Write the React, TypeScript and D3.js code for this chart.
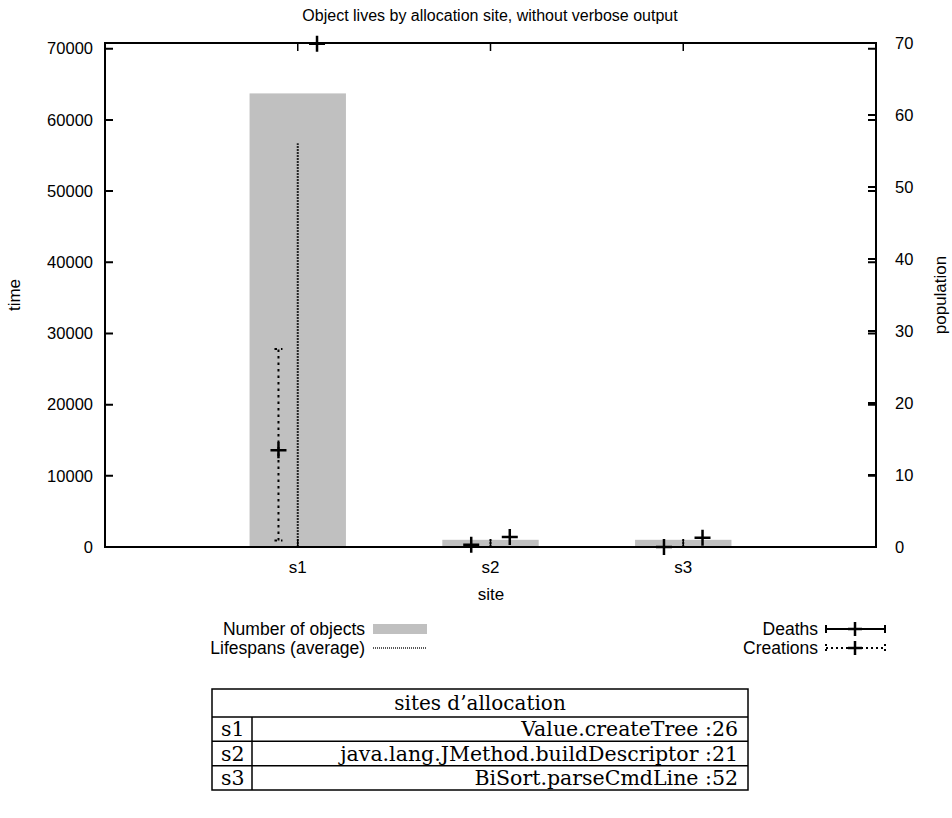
import React, { useEffect, useRef } from "react";
import * as d3 from "d3";

const sites = ["s1", "s2", "s3"];
const objectCounts = [63, 1, 1];
const lifespans = [56700, 1100, 1100];
const creations = [13600, 300, 0];
const creationsLow = [900, 250, 0];
const creationsHigh = [27800, 350, 50];
const deaths = [70700, 1400, 1300];
const deathsLow = [70700, 1350, 1250];
const deathsHigh = [70700, 1450, 1350];
const siteNames = [
  "Value.createTree :26",
  "java.lang.JMethod.buildDescriptor :21",
  "BiSort.parseCmdLine :52",
];
const timeTicks = [0, 10000, 20000, 30000, 40000, 50000, 60000, 70000];
const popTicks = [0, 10, 20, 30, 40, 50, 60, 70];

const W = 952;
const H = 818;
const SANS = "'Liberation Sans', Arial, sans-serif";
const SERIF = "'DejaVu Serif', 'Liberation Serif', serif";

const App = () => {
  const svgRef = useRef<SVGSVGElement>(null);

  useEffect(() => {
    const svg = d3.select(svgRef.current);
    svg.selectAll("*").remove();

    const left = 105, right = 876, top = 43, bottom = 547;
    const x = d3.scaleLinear().domain([0, 4]).range([left, right]);
    const yTime = d3.scaleLinear().domain([0, 70800]).range([bottom, top]);
    const yPop = d3.scaleLinear().domain([0, 70]).range([bottom, top]);
    const fsTick = 16.5;
    const fsLab = 17;
    const fsLeg = 17.5;

    const g = svg.append("g");

    // bars: number of objects
    g.selectAll(".bar")
      .data(objectCounts)
      .enter()
      .append("rect")
      .attr("x", (d, i) => x(i + 1 - 0.25))
      .attr("width", x(0.5) - x(0))
      .attr("y", (d) => yPop(d))
      .attr("height", (d) => bottom - yPop(d))
      .attr("fill", "#c0c0c0");

    // lifespans (impulses)
    g.selectAll(".life")
      .data(lifespans)
      .enter()
      .append("line")
      .attr("x1", (d, i) => x(i + 1))
      .attr("x2", (d, i) => x(i + 1))
      .attr("y1", bottom)
      .attr("y2", (d) => yTime(d))
      .attr("stroke", "#222")
      .attr("stroke-width", 2)
      .attr("stroke-dasharray", "2,1");

    const plus = (sel, cx, cy, s = 8) => {
      sel.append("path")
        .attr("d", `M${cx - s},${cy}H${cx + s}M${cx},${cy - s}V${cy + s}`)
        .attr("stroke", "#000")
        .attr("stroke-width", 2.5)
        .attr("fill", "none");
    };

    const errorBar = (sel, cx, lo, hi, dash) => {
      const capW = 4;
      sel.append("path")
        .attr("d", `M${cx},${lo}V${hi}M${cx - capW},${lo}H${cx + capW}M${cx - capW},${hi}H${cx + capW}`)
        .attr("stroke", "#000")
        .attr("stroke-width", 2)
        .attr("fill", "none")
        .attr("stroke-dasharray", dash);
    };

    const plotClip = svg.append("clipPath").attr("id", "plotclip");
    plotClip.append("rect").attr("x", left).attr("y", top - 1).attr("width", right - left).attr("height", bottom - top + 10);
    const marks = g.append("g").attr("clip-path", "url(#plotclip)");

    creations.forEach((v, i) => {
      const cx = x(i + 1 - 0.1);
      if (creationsHigh[i] - creationsLow[i] > 1000)
        errorBar(marks, cx, yTime(creationsLow[i]), yTime(creationsHigh[i]), "2.5,4");
      plus(marks, cx, yTime(v));
    });
    deaths.forEach((v, i) => {
      const cx = x(i + 1 + 0.1);
      if (deathsHigh[i] - deathsLow[i] > 1000)
        errorBar(marks, cx, yTime(deathsLow[i]), yTime(deathsHigh[i]), null);
      plus(g, cx, yTime(v));
    });

    // border
    g.append("rect")
      .attr("x", left).attr("y", top)
      .attr("width", right - left).attr("height", bottom - top)
      .attr("fill", "none").attr("stroke", "#000").attr("stroke-width", 2);

    const tl = 8;
    // left ticks + right mirror
    timeTicks.forEach((t) => {
      const yy = yTime(t);
      g.append("path").attr("d", `M${left},${yy}h${tl}M${right},${yy}h${-tl}`)
        .attr("stroke", "#000").attr("stroke-width", 2);
      g.append("text").attr("x", left - 12).attr("y", yy).attr("dy", "0.35em")
        .attr("text-anchor", "end").style("font", `${fsTick}px ${SANS}`).text(String(t));
    });
    popTicks.forEach((t) => {
      const yy = yPop(t);
      g.append("path").attr("d", `M${right},${yy}h${-tl}`)
        .attr("stroke", "#000").attr("stroke-width", 2);
      g.append("text").attr("x", right + 19).attr("y", yy).attr("dy", "0.35em")
        .attr("text-anchor", "start").style("font", `${fsTick}px ${SANS}`).text(String(t));
    });
    // x ticks
    sites.forEach((s, i) => {
      const xx = x(i + 1);
      g.append("path").attr("d", `M${xx},${bottom}v${-tl}M${xx},${top}v${tl}`)
        .attr("stroke", "#000").attr("stroke-width", 1.5);
      g.append("text").attr("x", xx).attr("y", 567).attr("dy", "0.35em")
        .attr("text-anchor", "middle").style("font", `${fsLab}px ${SANS}`).text(s);
    });

    // titles
    svg.append("text").attr("x", 490).attr("y", 15).attr("dy", "0.35em")
      .attr("text-anchor", "middle").style("font", `16px ${SANS}`)
      .text("Object lives by allocation site, without verbose output");
    svg.append("text").attr("x", 491).attr("y", 594).attr("dy", "0.35em")
      .attr("text-anchor", "middle").style("font", `${fsLab}px ${SANS}`).text("site");
    svg.append("text").attr("transform", "translate(14,295) rotate(-90)").attr("dy", "0.35em")
      .attr("text-anchor", "middle").style("font", `${fsLab}px ${SANS}`).text("time");
    svg.append("text").attr("transform", "translate(940,295) rotate(-90)").attr("dy", "0.35em")
      .attr("text-anchor", "middle").style("font", `${fsLab}px ${SANS}`).text("population");

    // legend
    const leg = svg.append("g");
    const ly1 = 629, ly2 = 648;
    leg.append("text").attr("x", 365).attr("y", ly1).attr("dy", "0.35em").attr("text-anchor", "end")
      .style("font", `${fsLeg}px ${SANS}`).text("Number of objects");
    leg.append("rect").attr("x", 373).attr("y", ly1 - 5).attr("width", 54).attr("height", 10).attr("fill", "#c0c0c0");
    leg.append("text").attr("x", 365).attr("y", ly2).attr("dy", "0.35em").attr("text-anchor", "end")
      .style("font", `${fsLeg}px ${SANS}`).text("Lifespans (average)");
    leg.append("line").attr("x1", 373).attr("x2", 427).attr("y1", ly2).attr("y2", ly2)
      .attr("stroke", "#222").attr("stroke-width", 1.5).attr("stroke-dasharray", "1,1");

    leg.append("text").attr("x", 818).attr("y", ly1).attr("dy", "0.35em").attr("text-anchor", "end")
      .style("font", `${fsLeg}px ${SANS}`).text("Deaths");
    leg.append("path").attr("d", `M826,${ly1}H885M826,${ly1 - 4}V${ly1 + 4}M885,${ly1 - 4}V${ly1 + 4}`)
      .attr("stroke", "#000").attr("stroke-width", 2).attr("fill", "none");
    plus(leg, 855, ly1, 7);
    leg.append("text").attr("x", 818).attr("y", ly2).attr("dy", "0.35em").attr("text-anchor", "end")
      .style("font", `${fsLeg}px ${SANS}`).text("Creations");
    leg.append("path").attr("d", `M826,${ly2}H885M826,${ly2 - 4}V${ly2 + 4}M885,${ly2 - 4}V${ly2 + 4}`)
      .attr("stroke", "#000").attr("stroke-width", 2).attr("fill", "none").attr("stroke-dasharray", "2,3");
    plus(leg, 855, ly2, 7);

    // table
    const tb = svg.append("g");
    const tx0 = 212, tx1 = 748, tdiv = 252;
    const rowY = d3.scaleLinear().domain([0, 3]).range([717, 790]);
    const headTop = 689;
    tb.append("rect").attr("x", tx0).attr("y", headTop).attr("width", tx1 - tx0).attr("height", rowY(3) - headTop)
      .attr("fill", "none").attr("stroke", "#000").attr("stroke-width", 1.5);
    [0, 1, 2].forEach((r) => {
      tb.append("line").attr("x1", tx0).attr("x2", tx1).attr("y1", rowY(r)).attr("y2", rowY(r))
        .attr("stroke", "#000").attr("stroke-width", 1.5);
    });
    tb.append("line").attr("x1", tdiv).attr("x2", tdiv).attr("y1", rowY(0)).attr("y2", rowY(3))
      .attr("stroke", "#000").attr("stroke-width", 1.5);
    tb.append("text").attr("x", (tx0 + tx1) / 2).attr("y", (headTop + rowY(0)) / 2).attr("dy", "0.35em")
      .attr("text-anchor", "middle").style("font", `20px ${SERIF}`).text("sites d\u2019allocation");
    sites.forEach((s, i) => {
      const cy = (rowY(i) + rowY(i + 1)) / 2;
      tb.append("text").attr("x", 221).attr("y", cy).attr("dy", "0.35em")
        .style("font", `20.5px ${SERIF}`).text(s);
      tb.append("text").attr("x", 738).attr("y", cy).attr("dy", "0.35em").attr("text-anchor", "end")
        .style("font", `20.5px ${SERIF}`).text(siteNames[i]);
    });
  }, []);

  return (
    <svg
      ref={svgRef}
      width={W}
      height={H}
      style={{ position: "absolute", left: 0, top: 0, background: "#fff" }}
    />
  );
};

export default App;
